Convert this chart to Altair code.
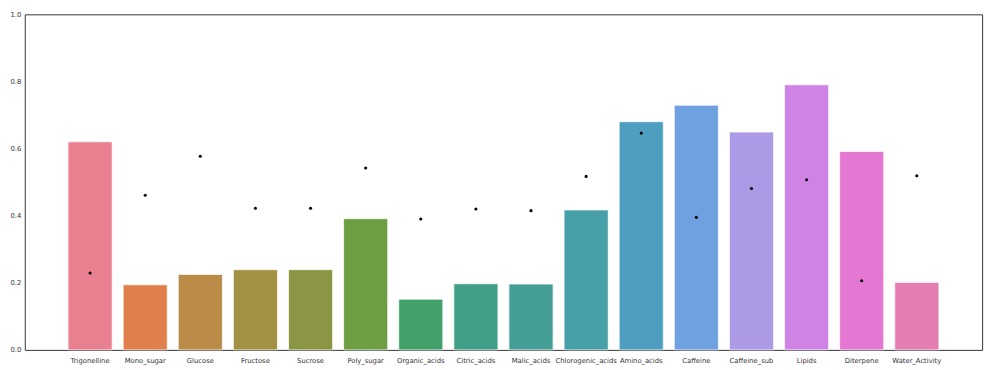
import altair as alt
import pandas as pd

categories = ["Trigonelline", "Mono_sugar", "Glucose", "Fructose", "Sucrose", "Poly_sugar",
              "Organic_acids", "Citric_acids", "Malic_acids", "Chlorogenic_acids", "Amino_acids",
              "Caffeine", "Caffeine_sub", "Lipids", "Diterpene", "Water_Activity"]
bar_values = [0.620, 0.194, 0.225, 0.239, 0.239, 0.391, 0.151, 0.197, 0.196, 0.417,
              0.680, 0.729, 0.649, 0.790, 0.591, 0.201]
dot_values = [0.229, 0.461, 0.577, 0.422, 0.422, 0.542, 0.390, 0.420, 0.415, 0.517,
              0.646, 0.395, 0.481, 0.507, 0.206, 0.519]
colors = ["#e8808f", "#e07f4c", "#bb8b48", "#a29143", "#8c9544", "#6d9e41", "#42a16b",
          "#419f87", "#449e95", "#479fa7", "#4e9fbf", "#6fa1e0", "#ac9ae6", "#cf84e5",
          "#e377d1", "#e47eb0"]

df = pd.DataFrame({"cat": categories, "bar": bar_values, "dot": dot_values})

xenc = alt.X("cat:N", sort=categories, title=None,
             scale=alt.Scale(paddingInner=0.2, paddingOuter=0.785),
             axis=alt.Axis(labelAngle=0, ticks=False, domain=False, labelPadding=8,
                           labelFontSize=6.9, labelColor="#333", labelFont="DejaVu Sans"))
yscale = alt.Scale(domain=[0, 1])
yaxis = alt.Axis(values=[0, 0.2, 0.4, 0.6, 0.8, 1.0], format=".1f", ticks=False, domain=False,
                 grid=False, labelPadding=4, labelFontSize=6.9, labelColor="#333",
                 labelFont="DejaVu Sans")

bars = alt.Chart(df).mark_bar(stroke="white", strokeWidth=1, strokeOpacity=0.7).encode(
    x=xenc,
    y=alt.Y("bar:Q", scale=yscale, axis=yaxis, title=None),
    color=alt.Color("cat:N", sort=categories,
                    scale=alt.Scale(domain=categories, range=colors), legend=None),
)

dots = alt.Chart(df).mark_circle(size=10, color="black", opacity=1).encode(
    x=alt.X("cat:N", sort=categories),
    y=alt.Y("dot:Q", scale=yscale),
)

chart = alt.layer(bars, dots).properties(
    width=970, height=340,
    autosize=alt.AutoSizeParams(type="none"),
    padding={"left": 17, "top": 4, "right": 10, "bottom": 20},
).configure_view(stroke="#333", strokeWidth=1).configure_axis(grid=False)

chart.save("out.html", embed_options={"renderer": "svg", "actions": False})
